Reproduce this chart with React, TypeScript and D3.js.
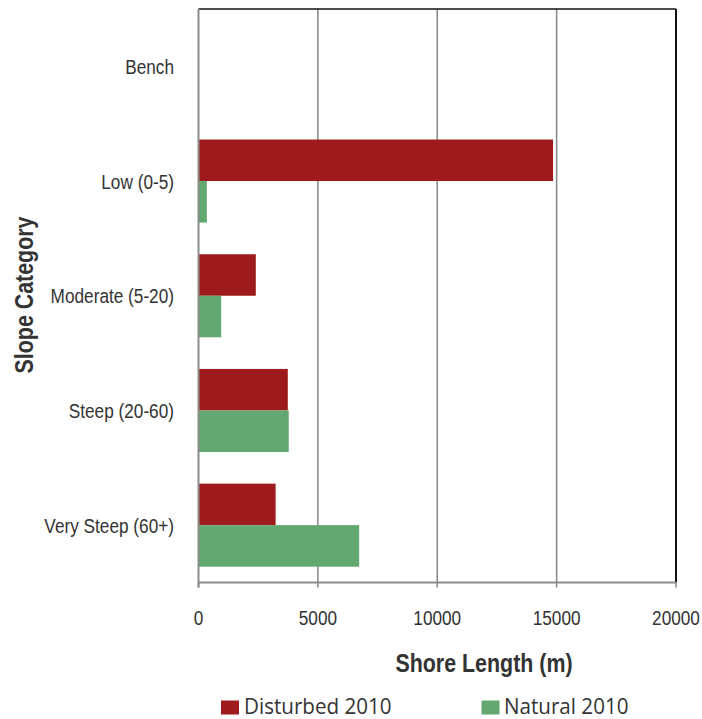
import React from "react";
import * as d3 from "d3";

const categories = ["Bench", "Low (0-5)", "Moderate (5-20)", "Steep (20-60)", "Very Steep (60+)"];
const seriesNames = ["Disturbed 2010", "Natural 2010"];
const disturbed = [0, 14850, 2400, 3740, 3230];
const natural = [0, 350, 950, 3780, 6730];
const xTicks = [0, 5000, 10000, 15000, 20000];
const colors = ["#9E1A1C", "#62A870"];

const W = 702;
const H = 719;
const left = 198.5;
const right = 676;
const top = 9;
const bottom = 582.5;
const SX = 0.84;
const FONT = "'Liberation Sans', Arial, sans-serif";

export default function App() {
  const x = d3.scaleLinear().domain([0, 20000]).range([left, right]);
  const y = d3.scaleBand<string>().domain(categories).range([top, bottom]).paddingInner(0.276).paddingOuter(0.138);
  const ySub = d3.scaleBand<string>().domain(seriesNames).range([0, y.bandwidth()]).padding(0);
  const values = [disturbed, natural];

  return (
    <svg width={W} height={H} style={{ position: "absolute", left: 0, top: 0, background: "#fff" }}>
      {xTicks.slice(1, -1).map((t) => (
        <line key={"g" + t} x1={x(t)} x2={x(t)} y1={top} y2={bottom} stroke="#8c8c8c" strokeWidth={1.6} />
      ))}
      {categories.map((c, i) =>
        seriesNames.map((s, j) => {
          const v = values[j][i];
          if (v <= 0) return null;
          return (
            <rect
              key={c + s}
              x={x(0)}
              y={(y(c) as number) + (ySub(s) as number)}
              width={x(v) - x(0)}
              height={ySub.bandwidth()}
              fill={colors[j]}
            />
          );
        })
      )}
      <line x1={left} x2={right} y1={top} y2={top} stroke="#111" strokeWidth={1.6} />
      <line x1={right} x2={right} y1={top} y2={bottom} stroke="#111" strokeWidth={2} />
      <line x1={left} x2={left} y1={top} y2={bottom + 5} stroke="#8c8c8c" strokeWidth={2} />
      <line x1={left} x2={right} y1={bottom} y2={bottom} stroke="#8c8c8c" strokeWidth={2} />
      {xTicks.map((t) => (
        <line key={"t" + t} x1={x(t)} x2={x(t)} y1={bottom} y2={bottom + 5} stroke="#8c8c8c" strokeWidth={1.6} />
      ))}
      {xTicks.map((t) => (
        <g key={"l" + t} transform={`translate(${x(t)},625) scale(${SX},1)`}>
          <text textAnchor="middle" fontFamily={FONT} fontSize={20.5} fill="#333">
            {t}
          </text>
        </g>
      ))}
      {categories.map((c) => (
        <g key={"c" + c} transform={`translate(174,${(y(c) as number) + y.bandwidth() / 2 + 7.5}) scale(${SX},1)`}>
          <text textAnchor="end" fontFamily={FONT} fontSize={20.5} fill="#333">
            {c}
          </text>
        </g>
      ))}
      <g transform={`translate(484,671.5) scale(${SX},1)`}>
        <text textAnchor="middle" fontFamily={FONT} fontWeight="bold" fontSize={25.5} fill="#333">
          Shore Length (m)
        </text>
      </g>
      <g transform={`translate(33,295) rotate(-90) scale(${SX},1)`}>
        <text textAnchor="middle" fontFamily={FONT} fontWeight="bold" fontSize={25.5} fill="#333">
          Slope Category
        </text>
      </g>
      <rect x={221} y={700.5} width={18} height={14} fill={colors[0]} />
      <text x={244} y={714} fontFamily="'Open Sans', sans-serif" fontSize={21} fill="#333" textLength={147.5} lengthAdjust="spacingAndGlyphs">
        {seriesNames[0]}
      </text>
      <rect x={481.5} y={700.5} width={18} height={14} fill={colors[1]} />
      <text x={504} y={714} fontFamily="'Open Sans', sans-serif" fontSize={21} fill="#333" textLength={124.5} lengthAdjust="spacingAndGlyphs">
        {seriesNames[1]}
      </text>
    </svg>
  );
}
